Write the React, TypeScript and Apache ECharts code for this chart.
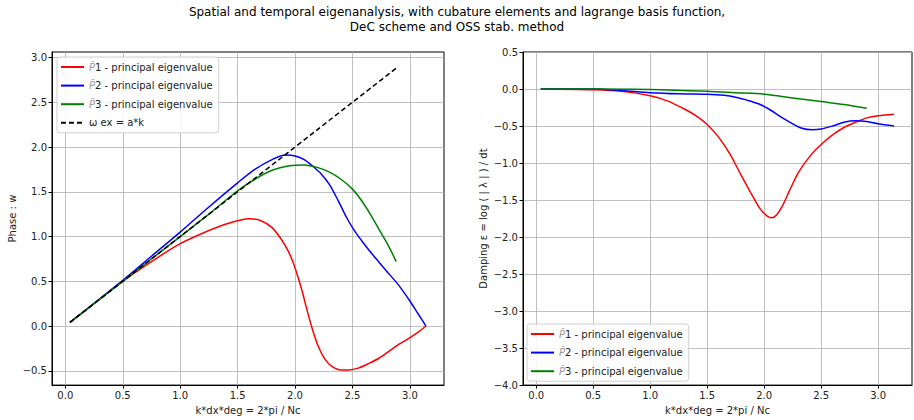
import React, { useEffect, useRef } from "react";
import * as echarts from "echarts";

const TITLE_LINES = [
  "Spatial and temporal eigenanalysis, with cubature elements and lagrange basis function,",
  "DeC scheme and OSS stab. method",
];
const X_NAME = "k*dx*deg = 2*pi / Nc";
const Y_NAME_LEFT = "Phase : w";
const Y_NAME_RIGHT = "Damping ε = log ( | λ | ) / dt";
const X_TICKS = [0, 0.5, 1.0, 1.5, 2.0, 2.5, 3.0];
const Y_TICKS_LEFT = [-0.5, 0, 0.5, 1.0, 1.5, 2.0, 2.5, 3.0];
const Y_TICKS_RIGHT = [-4.0, -3.5, -3.0, -2.5, -2.0, -1.5, -1.0, -0.5, 0, 0.5];

const SERIES_NAMES = ["P1", "P2", "P3", "omega"];
const LEGEND_SUFFIX = " - principal eigenvalue";
const OMEGA_LABEL = "ω ex = a*k";

// Phase (left)
const phaseX1 = [0.04, 0.25, 0.5, 0.75, 1.0, 1.2, 1.4, 1.6, 1.7, 1.8, 1.88, 1.94, 1.98, 2.02, 2.06, 2.1, 2.15, 2.2, 2.26, 2.32, 2.4, 2.47, 2.55, 2.64, 2.73, 2.82, 2.91, 3.0, 3.07, 3.14];
const phaseY1 = [0.04, 0.25, 0.5, 0.72, 0.92, 1.04, 1.14, 1.2, 1.18, 1.1, 0.97, 0.84, 0.72, 0.57, 0.4, 0.2, -0.03, -0.22, -0.37, -0.45, -0.49, -0.49, -0.47, -0.42, -0.36, -0.28, -0.2, -0.13, -0.07, 0.0];
const phaseX2 = [0.04, 0.5, 0.75, 1.0, 1.25, 1.5, 1.65, 1.8, 1.92, 2.0, 2.08, 2.15, 2.22, 2.3, 2.38, 2.45, 2.52, 2.6, 2.7, 2.8, 2.9, 3.0, 3.07, 3.14];
const phaseY2 = [0.04, 0.51, 0.78, 1.05, 1.33, 1.6, 1.75, 1.86, 1.91, 1.9, 1.86, 1.79, 1.71, 1.58, 1.39, 1.21, 1.06, 0.92, 0.76, 0.61, 0.46, 0.28, 0.14, 0.0];
const phaseX3 = [0.04, 0.5, 1.0, 1.25, 1.5, 1.65, 1.8, 1.95, 2.08, 2.2, 2.3, 2.4, 2.5, 2.58, 2.66, 2.74, 2.82, 2.88];
const phaseY3 = [0.04, 0.5, 1.0, 1.25, 1.51, 1.64, 1.74, 1.79, 1.8, 1.77, 1.72, 1.64, 1.53, 1.4, 1.24, 1.06, 0.88, 0.72];
const exactX = [0.04, 2.88];
const exactY = [0.04, 2.88];

// Damping (right)
const dampX1 = [0.04, 0.5, 0.75, 1.0, 1.15, 1.3, 1.4, 1.5, 1.6, 1.7, 1.8, 1.9, 1.97, 2.03, 2.07, 2.11, 2.16, 2.22, 2.3, 2.4, 2.5, 2.6, 2.7, 2.8, 2.9, 3.0, 3.14];
const dampY1 = [0.0, -0.01, -0.03, -0.09, -0.16, -0.27, -0.36, -0.48, -0.65, -0.88, -1.17, -1.45, -1.63, -1.72, -1.74, -1.7, -1.58, -1.38, -1.13, -0.91, -0.75, -0.62, -0.52, -0.45, -0.39, -0.36, -0.34];
const dampX2 = [0.04, 0.5, 0.75, 1.0, 1.25, 1.5, 1.65, 1.75, 1.85, 1.95, 2.05, 2.15, 2.25, 2.33, 2.42, 2.5, 2.6, 2.7, 2.8, 2.9, 3.0, 3.14];
const dampY2 = [0.0, 0.0, -0.02, -0.05, -0.065, -0.07, -0.085, -0.11, -0.15, -0.2, -0.28, -0.38, -0.47, -0.53, -0.55, -0.54, -0.5, -0.45, -0.43, -0.44, -0.47, -0.5];
const dampX3 = [0.04, 0.5, 1.0, 1.5, 1.75, 2.0, 2.25, 2.5, 2.7, 2.9];
const dampY3 = [0.0, 0.0, -0.005, -0.03, -0.05, -0.07, -0.12, -0.17, -0.21, -0.26];

const COLORS = ["#ff0000", "#0000ff", "#008000", "#000000"];
const FONT = "DejaVu Sans";

const zip = (xs: number[], ys: number[]) => xs.map((x, i) => [x, ys[i]]);
const fmt = (v: number) => (v < 0 ? "\u2212" + Math.abs(v).toFixed(1) : v.toFixed(1));

const SOLID_ICON = "path://M0,0h23v2h-23z";
const DASH_ICON = "path://M0,0h5v2h-5z M8,0h5v2h-5z M16,0h5v2h-5z M23,0h0.01v2h-0.01z";

export default function App() {
  const ref = useRef<HTMLDivElement>(null);
  useEffect(() => {
    if (!ref.current) return;
    const chart = echarts.init(ref.current, null, { renderer: "svg" });

    const grids = [
      { left: 52, top: 52, width: 392, height: 335 },
      { left: 523, top: 52, width: 389, height: 335 },
    ];
    const xAxisBase = (gridIndex: number) => ({
      type: "value",
      gridIndex,
      min: -0.116,
      max: 3.297,
      name: X_NAME,
      nameLocation: "middle",
      nameGap: 18,
      nameTextStyle: { fontFamily: FONT, fontSize: 10, color: "#222" },
      axisLine: { show: true, onZero: false, lineStyle: { color: "#000", width: 1 } },
      axisTick: { show: true, length: 3.5, lineStyle: { color: "#000" }, customValues: X_TICKS },
      axisLabel: { fontFamily: FONT, fontSize: 10, color: "#222", margin: 5, formatter: fmt, customValues: X_TICKS },
      splitLine: { show: true, lineStyle: { color: "#b0b0b0", width: 0.8 } },
    });
    const yAxisBase = (gridIndex: number, min: number, max: number, ticks: number[], name: string, gap: number) => ({
      type: "value",
      gridIndex,
      min,
      max,
      name,
      nameLocation: "middle",
      nameRotate: 90,
      nameGap: gap,
      nameTextStyle: { fontFamily: FONT, fontSize: 10, color: "#222" },
      axisLine: { show: true, onZero: false, lineStyle: { color: "#000", width: 1 } },
      axisTick: { show: true, length: 3.5, lineStyle: { color: "#000" }, customValues: ticks },
      axisLabel: { fontFamily: FONT, fontSize: 10, color: "#222", margin: 5, formatter: fmt, customValues: ticks },
      splitLine: { show: true, lineStyle: { color: "#b0b0b0", width: 0.8 } },
    });

    const line = (name: string, data: number[][], color: string, xi: number, dashed = false) => ({
      type: "line",
      name,
      xAxisIndex: xi,
      yAxisIndex: xi,
      data,
      showSymbol: false,
      symbol: "none",
      smooth: 0.3,
      lineStyle: { color, width: 1.5, type: dashed ? [5, 3] : "solid" },
      itemStyle: { color },
      color,
    });

    const legendFormatter = (name: string) => {
      if (name === "omega") return OMEGA_LABEL;
      return "{p|P\u0303}" + name.slice(1) + LEGEND_SUFFIX;
    };
    const legendBase = {
      orient: "vertical",
      itemWidth: 23,
      itemHeight: 2,
      itemGap: 6.6,
      padding: [4, 6, 4, 4],
      backgroundColor: "rgba(255,255,255,0.85)",
      borderColor: "#d0d0d0",
      borderWidth: 1,
      borderRadius: 3,
      formatter: legendFormatter,
      textStyle: {
        fontFamily: FONT,
        fontSize: 10,
        color: "#222",
        lineHeight: 12,
        rich: { p: { fontFamily: FONT, fontSize: 10, fontStyle: "italic", color: "#999" } },
      },
    };
    const legendData = (names: string[]) =>
      names.map((n) => ({ name: n, icon: n === "omega" ? DASH_ICON : SOLID_ICON }));

    chart.setOption({
      animation: false,
      backgroundColor: "#fff",
      graphic: TITLE_LINES.map((t, i) => ({
        type: "text",
        x: 457,
        y: 12 + i * 15,
        style: {
          text: t,
          fontFamily: FONT,
          fontSize: 12,
          fill: "#000",
          textAlign: "center",
          textVerticalAlign: "middle",
        },
      })),
      grid: grids.map((g) => ({ ...g, show: true, borderColor: "#000", borderWidth: 1, backgroundColor: "transparent" })),
      xAxis: [xAxisBase(0), xAxisBase(1)],
      yAxis: [
        yAxisBase(0, -0.66, 3.062, Y_TICKS_LEFT, Y_NAME_LEFT, 35),
        yAxisBase(1, -4.0, 0.5, Y_TICKS_RIGHT, Y_NAME_RIGHT, 35),
      ],
      legend: [
        { ...legendBase, left: 57, top: 57, data: legendData(SERIES_NAMES) },
        { ...legendBase, left: 527, top: 324, data: legendData(SERIES_NAMES.slice(0, 3)) },
      ],
      series: [
        line("P1", zip(phaseX1, phaseY1), COLORS[0], 0),
        line("P2", zip(phaseX2, phaseY2), COLORS[1], 0),
        line("P3", zip(phaseX3, phaseY3), COLORS[2], 0),
        line("omega", zip(exactX, exactY), COLORS[3], 0, true),
        line("P1", zip(dampX1, dampY1), COLORS[0], 1),
        line("P2", zip(dampX2, dampY2), COLORS[1], 1),
        line("P3", zip(dampX3, dampY3), COLORS[2], 1),
      ],
    });
    return () => chart.dispose();
  }, []);
  return <div ref={ref} style={{ position: "fixed", left: 0, top: 0, width: 914, height: 420 }} />;
}
